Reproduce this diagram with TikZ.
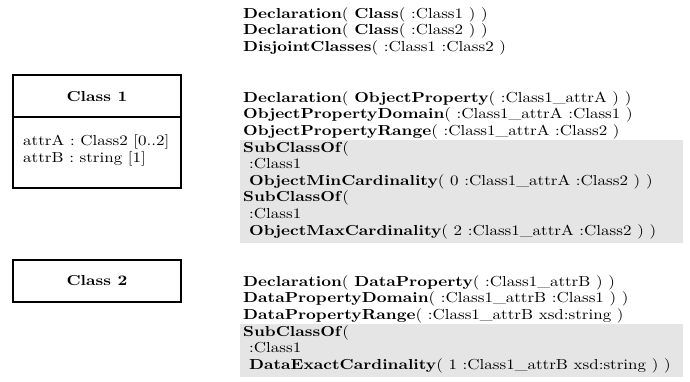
\documentclass[tikz,border=0pt]{standalone}
\usepackage{fontspec}
\usepackage{graphicx}
\usepackage{xcolor}
\newcommand\kw[1]{\textbf{#1}}
\newcommand\ind{\hspace*{0.35em}}
% text is set at 10pt and stretched to the drawing's pixel grid
\newcommand\widetext[1]{\scalebox{1.7}[1.45]{#1}}
% a stack of lines with a fixed baseline distance (16.6px once stretched)
\newcommand\codeblock[1]{\vtop{\baselineskip=11.45pt\lineskiplimit=-100pt\lineskip=0pt #1}}
\newcommand\cl[1]{\hbox{#1}}
\newcommand\topstrut{\rule{0pt}{8.6pt}}
\newcommand\botstrut{\rule[-5.5pt]{0pt}{5.5pt}}
\begin{document}
\begin{tikzpicture}[x=1pt,y=-1pt,
  font=\fontsize{10}{12}\selectfont,
  umlbox/.style={draw,line width=1.6pt},
  code/.style={anchor=base west,inner sep=0pt},
  shaded/.style={anchor=base west,inner sep=0pt,fill=black!10}]
\useasboundingbox (0,0) rectangle (690,381);

% UML class boxes
\draw[umlbox] (13,75) rectangle (181,188);
\draw[line width=1.6pt] (13,117) -- (181,117);
\node (c1) at (97,97) {\widetext{\kw{Class 1}}};
\node[code] (a1) at (23,145) {\widetext{attrA : Class2 [0..2]}};
\node[code] (a2) at (23,162) {\widetext{attrB : string [1]}};

\draw[umlbox] (13,260) rectangle (181,302);
\node (c2) at (97,281) {\widetext{\kw{Class 2}}};

% OWL functional syntax
\node[code] (b1) at (243,18) {\widetext{\codeblock{
\cl{\kw{Declaration}( \kw{Class}( :Class1 ) )}
\cl{\kw{Declaration}( \kw{Class}( :Class2 ) )}
\cl{\kw{DisjointClasses}( :Class1 :Class2 )}}}};

\node[code] (b2) at (243,102) {\widetext{\codeblock{
\cl{\kw{Declaration}( \kw{ObjectProperty}( :Class1\_attrA ) )}
\cl{\kw{ObjectPropertyDomain}( :Class1\_attrA :Class1 )}
\cl{\kw{ObjectPropertyRange}( :Class1\_attrA :Class2 )}}}};

\node[shaded] (b3) at (240,152) {\widetext{\makebox[260.6pt][l]{\hspace*{1.76pt}\codeblock{
\cl{\topstrut\kw{SubClassOf}(}
\cl{\ind:Class1}
\cl{\ind\kw{ObjectMinCardinality}( 0 :Class1\_attrA :Class2 ) )}
\cl{\kw{SubClassOf}(}
\cl{\ind:Class1}
\cl{\botstrut\ind\kw{ObjectMaxCardinality}( 2 :Class1\_attrA :Class2 ) )}}}}};

\node[code] (b4) at (243,286) {\widetext{\codeblock{
\cl{\kw{Declaration}( \kw{DataProperty}( :Class1\_attrB ) )}
\cl{\kw{DataPropertyDomain}( :Class1\_attrB :Class1 ) )}
\cl{\kw{DataPropertyRange}( :Class1\_attrB xsd:string )}}}};

\node[shaded] (b5) at (240,336) {\widetext{\makebox[260.6pt][l]{\hspace*{1.76pt}\codeblock{
\cl{\topstrut\kw{SubClassOf}(}
\cl{\ind:Class1}
\cl{\botstrut\ind\kw{DataExactCardinality}( 1 :Class1\_attrB xsd:string ) )}}}}};
\end{tikzpicture}
\end{document}
